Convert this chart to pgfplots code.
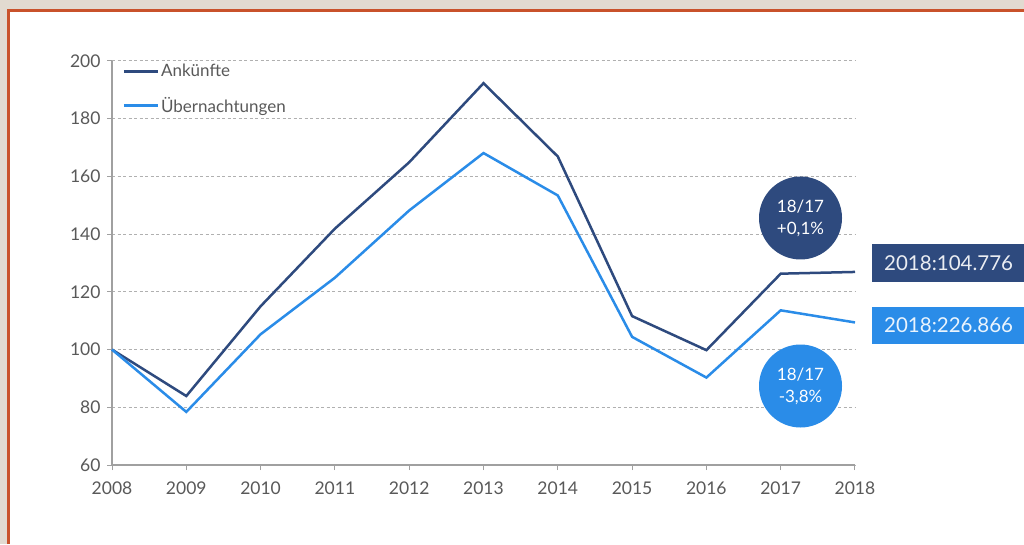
\documentclass[border=0pt]{standalone}
\usepackage{pgfplots}
\pgfplotsset{compat=1.18}
\usepackage{fontspec}
\setmainfont{Lato}
\definecolor{navy}{HTML}{2E4A7E}
\definecolor{lblue}{HTML}{2A8CE8}
\definecolor{beige}{HTML}{E2DAD0}
\definecolor{framec}{HTML}{C9522B}
\definecolor{ticktxt}{HTML}{595959}
\definecolor{axgray}{HTML}{A0A0A0}
\definecolor{gridc}{HTML}{B0B0B0}
\begin{document}
\begin{tikzpicture}
\useasboundingbox (0pt,0pt) rectangle (1024pt,544pt);
\fill[beige] (0pt,0pt) rectangle (1024pt,544pt);
\fill[white] (8pt,0pt) rectangle (1024pt,534pt);
\draw[framec, line width=2.6pt] (8.7pt,0pt) -- (8.7pt,533.3pt) -- (1024pt,533.3pt);
\begin{axis}[
  at={(112pt,79pt)}, anchor=south west, scale only axis,
  width=743pt, height=404pt,
  xmin=2008, xmax=2018, ymin=60, ymax=200,
  xtick={2008,2009,...,2018}, ytick={60,80,...,200},
  axis lines=left,
  axis line style={-, draw=axgray, line width=1.1pt},
  tick align=outside, major tick length=5pt,
  tick style={draw=axgray, line width=1pt},
  ymajorgrids, grid style={draw=gridc, line width=1pt, dash pattern=on 3pt off 2.5pt},
  /pgf/number format/1000 sep={},
  /pgf/number format/assume math mode=true,
  tick label style={font=\fontsize{17.5}{19}\selectfont, text=ticktxt},
  xticklabel style={yshift=-8pt},
  yticklabel style={xshift=-3pt},
  legend style={at={(rel axis cs:0.014,0.997)}, anchor=north west, draw=none, fill=none,
    inner sep=0pt, row sep=15pt, font=\fontsize{17}{19}\selectfont, text=ticktxt},
  legend cell align=left,
  legend image code/.code={\draw[#1] (0pt,0pt) -- (34pt,0pt);},
  clip=false,
]
\addplot[navy, line width=2.5pt] coordinates {
(2008,100)(2009,83.9)(2010,115)(2011,141.9)(2012,164.9)(2013,192.3)(2014,166.9)(2015,111.6)(2016,99.8)(2017,126.3)(2018,126.9)};
\addlegendentry{Ankünfte}
\addplot[lblue, line width=2.5pt] coordinates {
(2008,100)(2009,78.4)(2010,105.3)(2011,124.9)(2012,148.2)(2013,168.1)(2014,153.4)(2015,104.4)(2016,90.3)(2017,113.6)(2018,109.4)};
\addlegendentry{Übernachtungen}
\end{axis}
\node[circle, fill=navy, minimum size=83pt, inner sep=0pt, text=white, align=center,
  font=\fontsize{17}{22}\selectfont] at (800.5pt,326pt) {18/17\\+0,1\%};
\node[circle, fill=lblue, minimum size=83pt, inner sep=0pt, text=white, align=center,
  font=\fontsize{17}{22}\selectfont] at (800.5pt,158pt) {18/17\\-3,8\%};
\fill[navy] (872pt,262pt) rectangle (1024pt,300pt);
\fill[lblue] (872pt,200pt) rectangle (1024pt,237pt);
\node[anchor=west, text=white!90!navy, font=\fontsize{20.5}{22}\selectfont, inner sep=0pt] at (884pt,281pt) {2018:104.776};
\node[anchor=west, text=white!90!lblue, font=\fontsize{20.5}{22}\selectfont, inner sep=0pt] at (884pt,218.5pt) {2018:226.866};
\end{tikzpicture}
\end{document}
